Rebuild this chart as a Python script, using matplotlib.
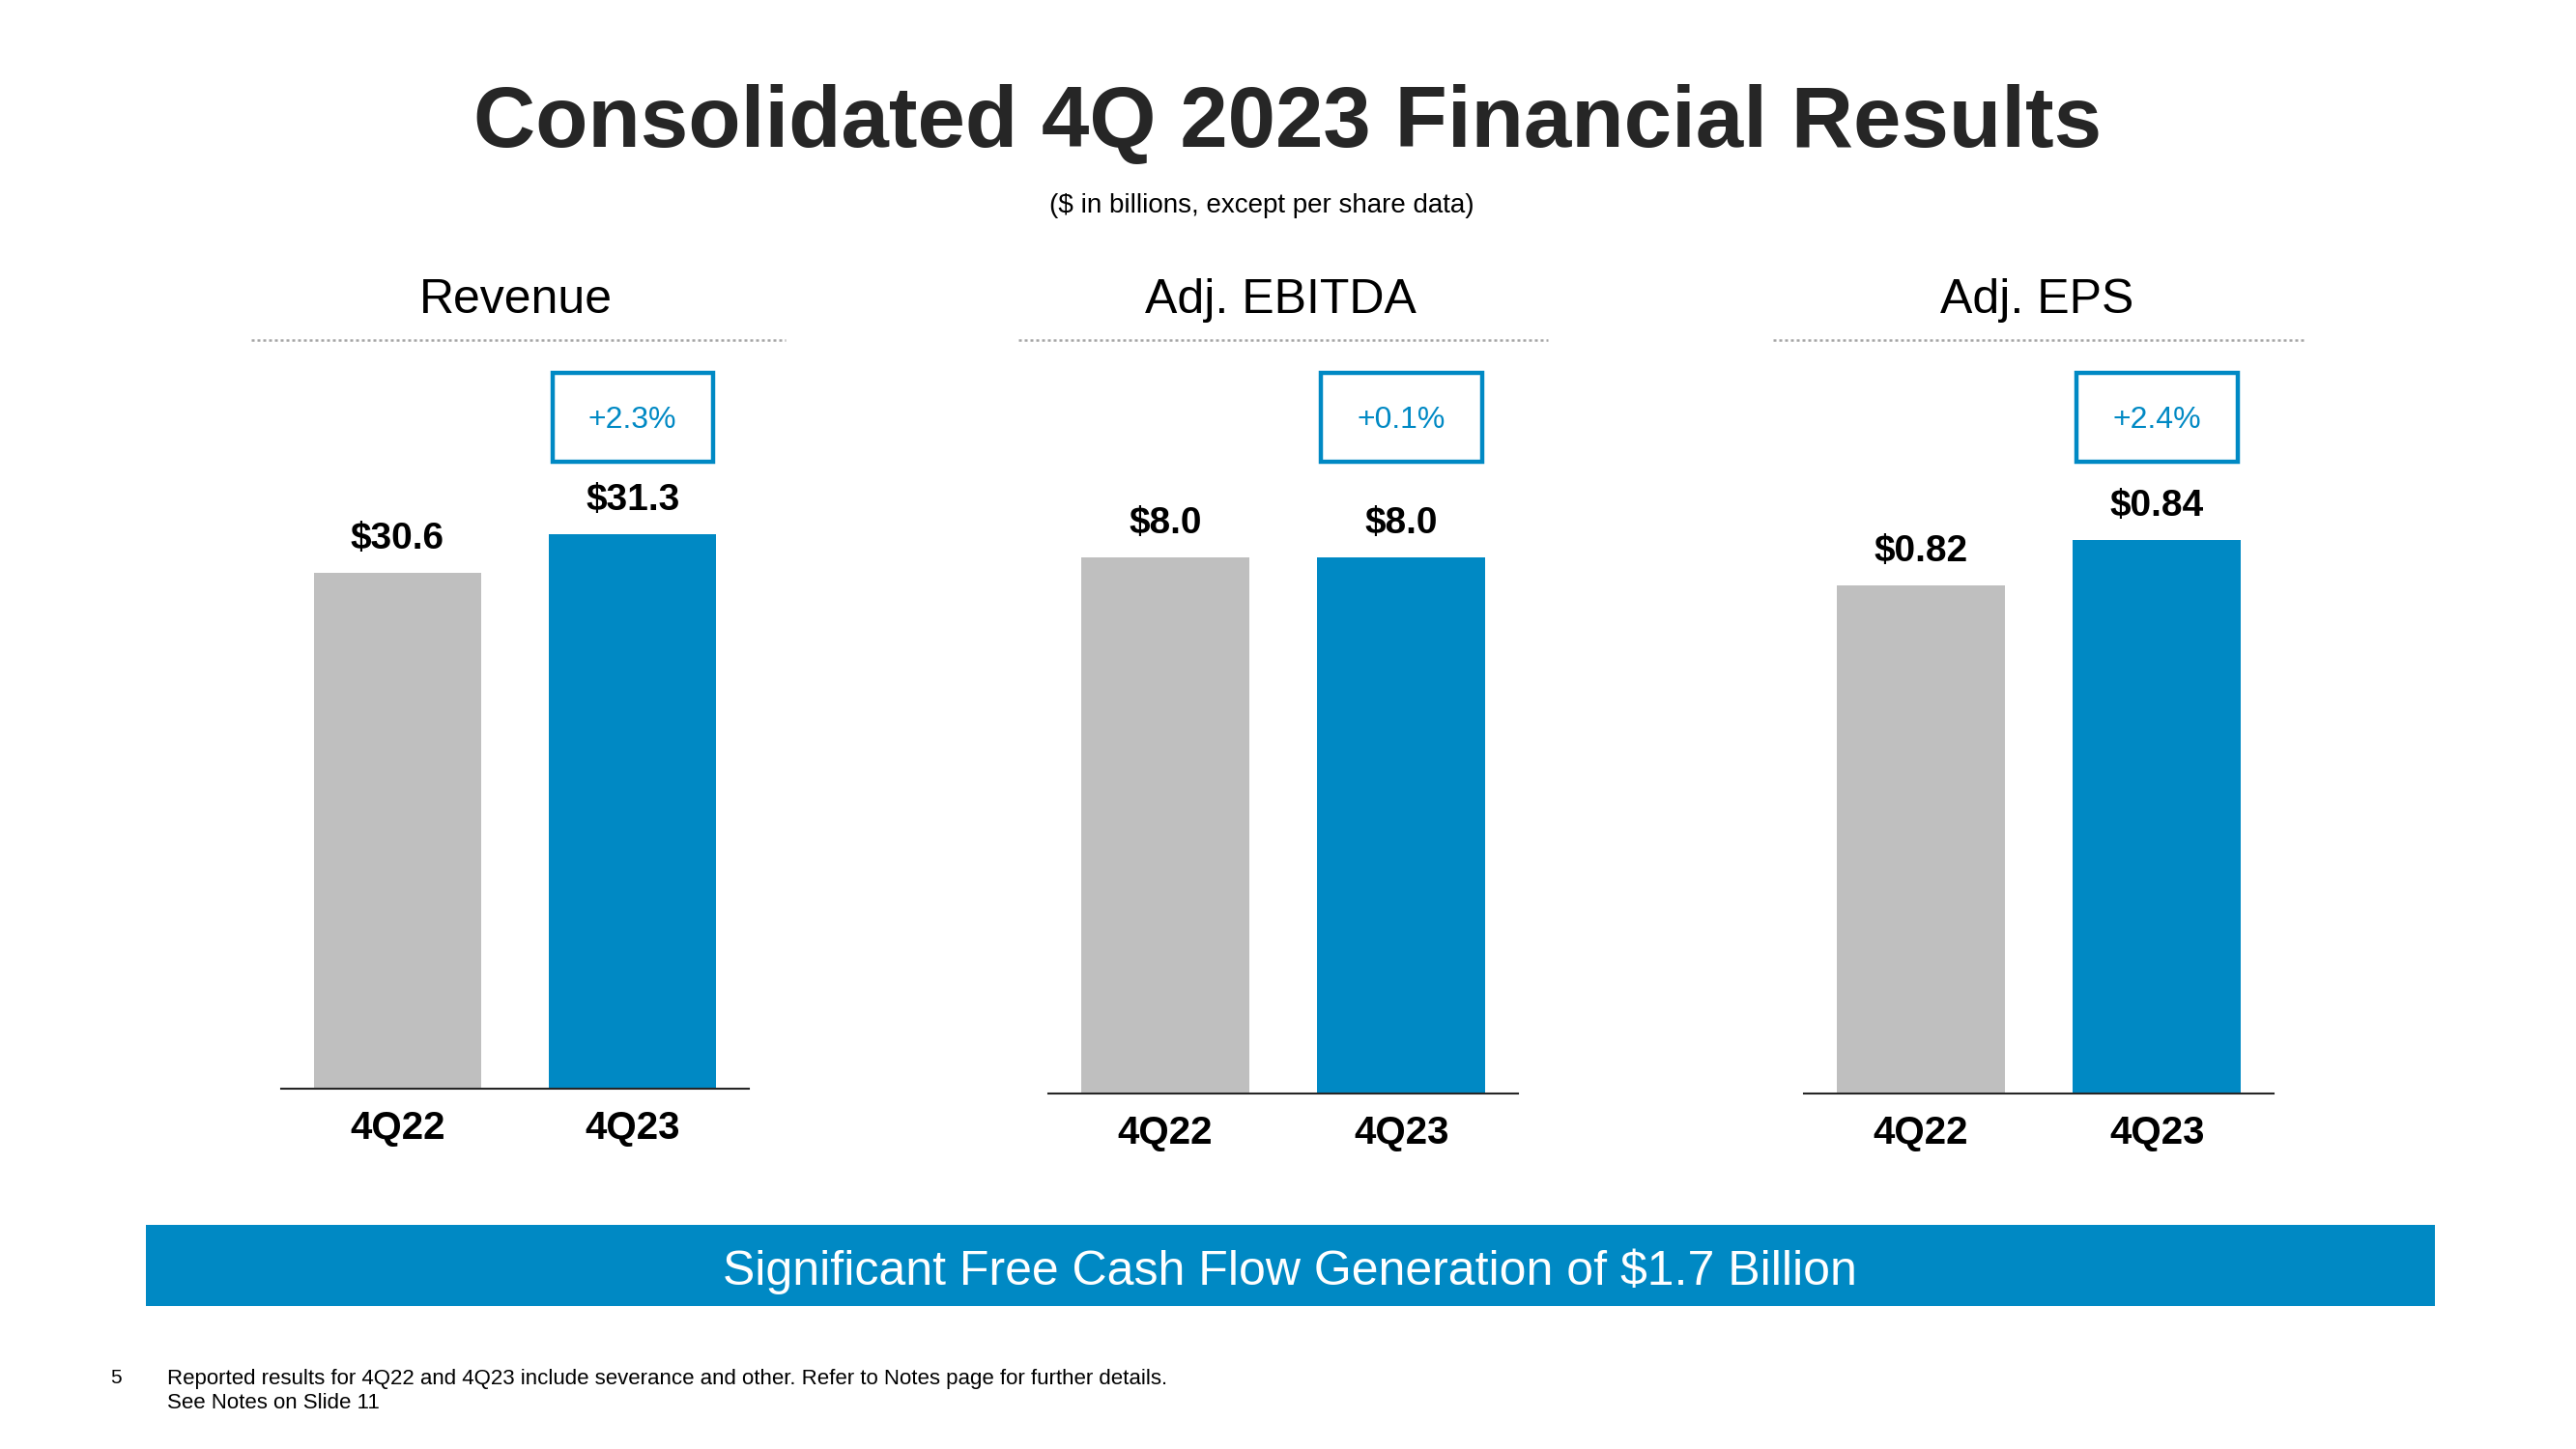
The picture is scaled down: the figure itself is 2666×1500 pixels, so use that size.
import matplotlib
matplotlib.use("Agg")
import matplotlib.pyplot as plt
from matplotlib.patches import Rectangle
from matplotlib.lines import Line2D
from matplotlib.transforms import blended_transform_factory

plt.rcParams['font.family'] = ['Liberation Sans Narrow', 'Liberation Sans', 'DejaVu Sans']

# Chart data
panel_titles = ['Revenue', 'Adj. EBITDA', 'Adj. EPS']
periods = ['4Q22', '4Q23']
revenue = [30.6, 31.3]
adj_ebitda = [8.0, 8.0]
adj_eps = [0.82, 0.84]
growth = ['+2.3%', '+0.1%', '+2.4%']
decimals = [1, 1, 2]

title = 'Consolidated 4Q 2023 Financial Results'
subtitle = '($ in billions, except per share data)'
banner = 'Significant Free Cash Flow Generation of $1.7 Billion'
page_no = '5'
notes = ['Reported results for 4Q22 and 4Q23 include severance and other. Refer to Notes page for further details.',
         'See Notes on Slide 11']

# Layout (figure pixels, 2666 x 1500)
W, H = 2666, 1500
axis_x = [(291, 775), (1085, 1571), (1867, 2353)]
baselines = [1127, 1132, 1132]
ax_top = 360
ylims = [(21.25, 34.68), (0, 11.12), (0.596, 0.9245)]
header_x = [534, 1325, 2108]
dotted_x = [(260, 813), (1054, 1602), (1835, 2386)]

GREY = '#BFBFBF'
BLUE = '#0089C4'
DARK = '#262626'

def fx(px):
    return px / W

def fy(py):
    return 1 - py / H

fig = plt.figure(figsize=(26.66, 15), dpi=100)

fig.text(0.5, fy(129), title, ha='center', va='center', fontsize=64, fontweight='bold', color=DARK)
fig.text(fx(1306), fy(213), subtitle, ha='center', va='center', fontsize=20, color='black')

series = [revenue, adj_ebitda, adj_eps]
for i, vals in enumerate(series):
    x0, x1 = axis_x[i]
    ax = fig.add_axes([fx(x0), fy(baselines[i]), (x1 - x0) / W, (baselines[i] - ax_top) / H])
    ax.bar([0, 1], vals, width=0.712, color=[GREY, BLUE])
    ax.set_xlim(-0.494, 1.494)
    ax.set_ylim(*ylims[i])
    for s in ['top', 'right', 'left']:
        ax.spines[s].set_visible(False)
    ax.spines['bottom'].set_color(DARK)
    ax.spines['bottom'].set_linewidth(1.5)
    ax.set_yticks([])
    ax.set_xticks([0, 1])
    ax.set_xticklabels(periods, fontsize=29, fontweight='bold', color='black')
    ax.tick_params(axis='x', length=0, pad=16)
    ax.patch.set_alpha(0)

    for j, v in enumerate(vals):
        ax.annotate(f'${v:.{decimals[i]}f}', xy=(j, v), xytext=(0, 12), textcoords='offset points',
                    ha='center', va='bottom', fontsize=28, fontweight='bold', color='black')

    # growth box above the 4Q23 bar
    tr = blended_transform_factory(ax.transData, fig.transFigure)
    bw = 166 / 243
    ax.add_patch(Rectangle((1 - bw / 2, fy(478)), bw, (478 - 386) / H, transform=tr,
                           fill=False, edgecolor=BLUE, linewidth=3.2, clip_on=False))
    ax.text(1, fy(435), growth[i], transform=tr, ha='center', va='center',
            fontsize=23, color=BLUE, clip_on=False)

    # panel header and dotted rule
    fig.text(fx(header_x[i]), fy(311), panel_titles[i], ha='center', va='center', fontsize=36, color='black')
    d0, d1 = dotted_x[i]
    fig.add_artist(Line2D([fx(d0), fx(d1)], [fy(352), fy(352)], transform=fig.transFigure,
                          color='#A6A6A6', linewidth=1.8, linestyle=(0, (1.2, 1.2))))

# bottom banner
fig.add_artist(Rectangle((fx(151), fy(1352)), (2520 - 151) / W, (1352 - 1268) / H,
                         transform=fig.transFigure, facecolor=BLUE, edgecolor='none'))
fig.text(fx(1335), fy(1316), banner, ha='center', va='center', fontsize=36, color='white')

fig.text(fx(114), fy(1427), page_no, ha='left', va='center', fontsize=15, color='black')
fig.text(fx(173), fy(1427), notes[0], ha='left', va='center', fontsize=16, color='black')
fig.text(fx(173), fy(1453), notes[1], ha='left', va='center', fontsize=16, color='black')

fig.savefig('out.png', dpi=100, facecolor='white')
